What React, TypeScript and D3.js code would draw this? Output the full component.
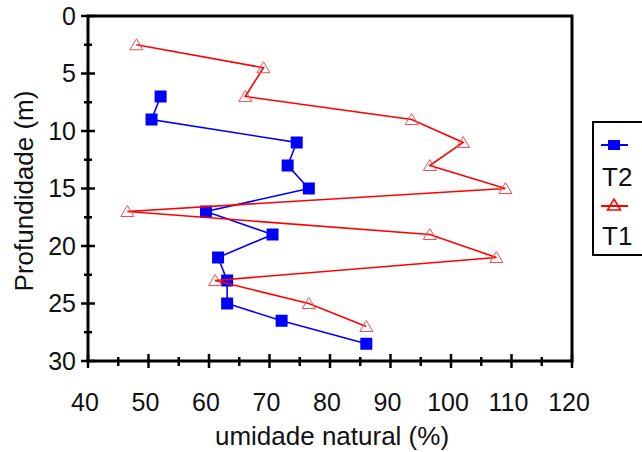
import * as d3 from "d3";

// T1 (red, open triangles)
const depthT1 = [2.5, 4.5, 7, 9, 11, 13, 15, 17, 19, 21, 23, 25, 27];
const umidT1 = [48, 69, 66, 93.5, 102, 96.5, 109, 46.5, 96.5, 107.5, 61, 76.5, 86];
// T2 (blue, filled squares)
const depthT2 = [7, 9, 11, 13, 15, 17, 19, 21, 23, 25, 26.5, 28.5];
const umidT2 = [52, 50.5, 74.5, 73, 76.5, 59.5, 70.5, 61.5, 63, 63, 72, 86];

const xTickLabels = [40, 50, 60, 70, 80, 90, 100, 110, 120];
const yTickLabels = [0, 5, 10, 15, 20, 25, 30];
const seriesNames = ["T2", "T1"];

const W = 642;
const H = 452;
const margin = { top: 16, right: 70, bottom: 91, left: 88 };
const font = "'Liberation Sans', Arial, sans-serif";

export default function App() {
  const x = d3.scaleLinear().domain([40, 120]).range([margin.left, W - margin.right]);
  const y = d3.scaleLinear().domain([0, 30]).range([margin.top, H - margin.bottom]);

  const t1 = depthT1.map((d, i) => ({ depth: d, umid: umidT1[i] }));
  const t2 = depthT2.map((d, i) => ({ depth: d, umid: umidT2[i] }));

  const line = d3
    .line<{ depth: number; umid: number }>()
    .x((d) => x(d.umid))
    .y((d) => y(d.depth));

  const xMinor = d3.range(45, 120, 10);
  const yMinor = d3.range(2.5, 30, 5);
  const [x0, x1] = x.range();
  const [y0, y1] = y.range();

  const tri = "M0,-6L6.5,5L-6.5,5Z";

  return (
    <svg width={W} height={H} style={{ position: "absolute", left: 0, top: 0, background: "#fff" }}>
      {/* frame */}
      <rect x={x0} y={y0} width={x1 - x0} height={y1 - y0} fill="none" stroke="#000" strokeWidth={3} />

      {/* x ticks */}
      {xTickLabels.map((t) => (
        <g key={"xt" + t}>
          <line x1={x(t)} x2={x(t)} y1={y1 - 7} y2={y1 + 7} stroke="#000" strokeWidth={2.5} />
          <text x={x(t) - 3} y={411} textAnchor="middle" fontSize={25} fontFamily={font} fill="#111">
            {t}
          </text>
        </g>
      ))}
      {xMinor.map((t) => (
        <line key={"xm" + t} x1={x(t)} x2={x(t)} y1={y1 - 4} y2={y1 + 5} stroke="#000" strokeWidth={2.5} />
      ))}

      {/* y ticks */}
      {yTickLabels.map((t) => (
        <g key={"yt" + t}>
          <line x1={x0 - 7} x2={x0 + 7} y1={y(t)} y2={y(t)} stroke="#000" strokeWidth={2.5} />
          <text x={76} y={y(t) + 8.5} textAnchor="end" fontSize={25} fontFamily={font} fill="#111">
            {t}
          </text>
        </g>
      ))}
      {yMinor.map((t) => (
        <line key={"ym" + t} x1={x0 - 4} x2={x0 + 4} y1={y(t)} y2={y(t)} stroke="#000" strokeWidth={2.5} />
      ))}

      {/* axis titles */}
      <text x={332} y={445} textAnchor="middle" fontSize={26} fontFamily={font} fill="#111">
        umidade natural (%)
      </text>
      <text
        transform="translate(33, 191) rotate(-90)"
        textAnchor="middle"
        fontSize={26}
        fontFamily={font}
        fill="#111"
      >
        Profundidade (m)
      </text>

      {/* T2 */}
      <path d={line(t2) ?? ""} fill="none" stroke="#0000ff" strokeWidth={1.6} />
      {t2.map((d, i) => (
        <rect key={"s" + i} x={x(d.umid) - 6} y={y(d.depth) - 6} width={12} height={12} fill="#0000ff" />
      ))}

      {/* T1 */}
      <path d={line(t1) ?? ""} fill="none" stroke="#ff0000" strokeWidth={1.6} />
      {t1.map((d, i) => (
        <path
          key={"t" + i}
          d={tri}
          transform={`translate(${x(d.umid)}, ${y(d.depth)})`}
          fill="none"
          stroke="#f05050"
          strokeWidth={1}
        />
      ))}

      {/* legend */}
      <rect x={593} y={122} width={60} height={133} fill="#fff" stroke="#000" strokeWidth={2} />
      <line x1={601} x2={628} y1={145} y2={145} stroke="#0000ff" strokeWidth={2} />
      <rect x={608} y={140} width={12} height={10} fill="#0000ff" />
      <text x={602} y={186} fontSize={26} fontFamily={font} fill="#111">
        {seriesNames[0]}
      </text>
      <line x1={601} x2={628} y1={206} y2={206} stroke="#ff0000" strokeWidth={2} />
      <path d={tri} transform="translate(614, 205)" fill="none" stroke="#ff0000" strokeWidth={1.5} />
      <text x={602} y={245} fontSize={26} fontFamily={font} fill="#111">
        {seriesNames[1]}
      </text>
    </svg>
  );
}
